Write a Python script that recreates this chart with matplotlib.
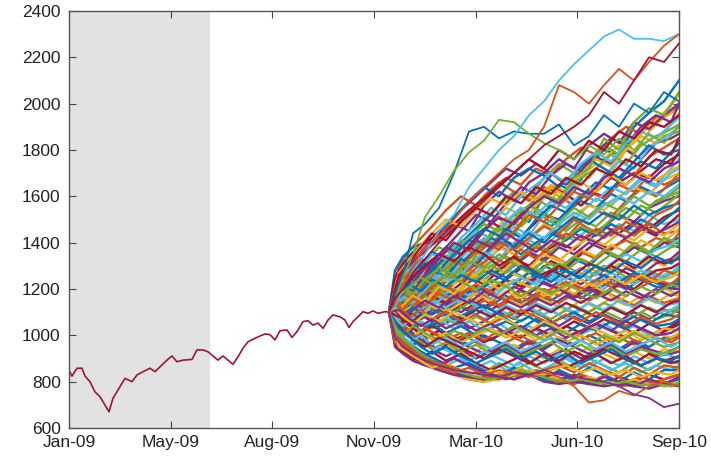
import numpy as np
import matplotlib
matplotlib.use('Agg')
import matplotlib.pyplot as plt

# Historical index: days after start date and closing values
start_date = np.datetime64('2009-01-20')
hist_days = [0, 3, 8, 13, 16, 21, 26, 31, 36, 40, 44, 49, 56, 63, 68, 74, 81, 86, 91, 98,
             103, 108, 114, 123, 128, 134, 139, 144, 149, 154, 159, 164, 169, 174, 179, 184,
             191, 196, 201, 206, 211, 218, 223, 228, 234, 239, 244, 249, 254, 259, 264, 271,
             276, 280, 284, 289, 294, 299, 304, 309, 316, 320]
hist_values = [850, 824, 858, 858, 824, 800, 756, 735, 699, 670, 728, 764, 814, 800, 829, 843,
               858, 843, 864, 893, 911, 886, 893, 896, 937, 937, 929, 911, 893, 911, 893, 875,
               907, 944, 972, 983, 997, 1006, 1003, 980, 1020, 1023, 991, 1016, 1059, 1063,
               1044, 1053, 1030, 1066, 1088, 1080, 1066, 1034, 1059, 1080, 1102, 1095, 1105,
               1095, 1102, 1100]

# in-sample window (grey band), in days after start
shade_end_day = 141

# simulated paths, first set, sampled at these days
sim_days_a = [320, 326, 334, 344, 356, 370, 385, 400, 415, 430, 445, 460, 475, 490, 505, 520,
              535, 550, 565, 580, 595, 610]

sim_a_upper = [
    [1100, 1140, 1190, 1230, 1290, 1260, 1340, 1410, 1380, 1470, 1520, 1490, 1600, 1650, 1620, 1730, 1800, 1780, 1900, 1960, 2010, 2100],
    [1100, 1080, 1150, 1210, 1180, 1260, 1330, 1300, 1400, 1460, 1430, 1550, 1610, 1580, 1680, 1720, 1850, 1800, 1920, 1980, 1950, 2050],
    [1100, 1200, 1280, 1320, 1360, 1420, 1480, 1450, 1560, 1620, 1580, 1660, 1700, 1760, 1720, 1820, 1870, 1830, 1920, 1890, 1950, 2000],
    [1100, 1130, 1100, 1180, 1250, 1220, 1300, 1370, 1340, 1440, 1500, 1560, 1520, 1640, 1700, 1680, 1760, 1820, 1790, 1880, 1940, 1980],
    [1100, 1250, 1310, 1360, 1400, 1440, 1480, 1540, 1590, 1650, 1700, 1760, 1720, 1800, 1760, 1840, 1800, 1880, 1850, 1920, 1900, 1950],
    [1100, 1060, 1120, 1160, 1230, 1200, 1280, 1350, 1330, 1400, 1470, 1430, 1520, 1580, 1650, 1600, 1690, 1750, 1720, 1810, 1850, 1900],
    [1100, 1150, 1200, 1260, 1320, 1380, 1350, 1430, 1500, 1560, 1620, 1590, 1680, 1740, 1700, 1760, 1820, 1780, 1850, 1810, 1860, 1880],
    [1100, 1120, 1180, 1150, 1220, 1290, 1260, 1330, 1400, 1370, 1450, 1520, 1490, 1560, 1620, 1590, 1680, 1720, 1690, 1770, 1810, 1850],
    [1100, 1280, 1340, 1380, 1400, 1440, 1510, 1580, 1640, 1600, 1680, 1720, 1690, 1640, 1700, 1760, 1720, 1680, 1750, 1820, 1780, 1800],
    [1100, 1090, 1140, 1200, 1170, 1240, 1300, 1280, 1350, 1420, 1390, 1460, 1520, 1500, 1570, 1620, 1600, 1660, 1700, 1680, 1740, 1780],
    [1100, 1140, 1210, 1190, 1260, 1330, 1400, 1370, 1450, 1510, 1480, 1550, 1600, 1570, 1640, 1610, 1680, 1720, 1690, 1660, 1720, 1750],
    [1100, 1070, 1130, 1190, 1250, 1220, 1290, 1340, 1310, 1380, 1350, 1420, 1480, 1450, 1520, 1560, 1540, 1600, 1640, 1610, 1670, 1700],
    [1100, 1230, 1300, 1330, 1370, 1410, 1470, 1530, 1600, 1660, 1620, 1580, 1640, 1600, 1560, 1620, 1590, 1650, 1620, 1690, 1650, 1680],
    [1100, 1110, 1170, 1140, 1200, 1260, 1230, 1300, 1360, 1330, 1400, 1450, 1420, 1480, 1530, 1500, 1560, 1600, 1570, 1620, 1600, 1650],
    [1100, 1150, 1120, 1190, 1250, 1300, 1360, 1420, 1480, 1450, 1520, 1560, 1530, 1490, 1550, 1510, 1570, 1540, 1600, 1560, 1590, 1620],
]

sim_a_mid = [
    [1100, 1060, 1110, 1080, 1140, 1200, 1170, 1230, 1280, 1250, 1310, 1360, 1330, 1390, 1440, 1410, 1470, 1520, 1490, 1550, 1580, 1600],
    [1100, 1140, 1190, 1250, 1310, 1280, 1350, 1410, 1460, 1430, 1380, 1440, 1400, 1460, 1510, 1480, 1530, 1500, 1560, 1520, 1550, 1570],
    [1100, 1120, 1080, 1130, 1170, 1140, 1200, 1250, 1220, 1280, 1330, 1300, 1360, 1400, 1370, 1430, 1470, 1440, 1490, 1460, 1510, 1540],
    [1100, 1210, 1260, 1300, 1260, 1330, 1300, 1370, 1420, 1390, 1450, 1410, 1380, 1440, 1410, 1460, 1430, 1480, 1450, 1520, 1480, 1500],
    [1100, 1080, 1130, 1170, 1140, 1210, 1180, 1240, 1290, 1260, 1320, 1290, 1350, 1320, 1380, 1420, 1390, 1440, 1410, 1460, 1430, 1480],
    [1100, 1130, 1180, 1150, 1210, 1260, 1320, 1290, 1350, 1400, 1370, 1420, 1470, 1440, 1500, 1460, 1420, 1470, 1430, 1480, 1440, 1450],
    [1100, 1050, 1090, 1060, 1110, 1160, 1130, 1190, 1160, 1220, 1270, 1240, 1300, 1270, 1330, 1300, 1360, 1330, 1390, 1360, 1400, 1420],
    [1100, 1150, 1210, 1180, 1240, 1290, 1260, 1320, 1290, 1350, 1310, 1270, 1320, 1290, 1340, 1310, 1370, 1340, 1400, 1360, 1420, 1400],
    [1100, 1110, 1150, 1120, 1170, 1210, 1260, 1230, 1280, 1250, 1300, 1350, 1320, 1380, 1350, 1400, 1370, 1330, 1380, 1350, 1400, 1380],
    [1100, 1070, 1120, 1170, 1140, 1190, 1160, 1210, 1180, 1230, 1200, 1250, 1220, 1270, 1240, 1290, 1260, 1310, 1280, 1330, 1300, 1350],
    [1100, 1160, 1200, 1250, 1300, 1350, 1320, 1380, 1350, 1300, 1340, 1290, 1250, 1300, 1260, 1310, 1280, 1330, 1290, 1340, 1310, 1330],
    [1100, 1120, 1090, 1140, 1110, 1160, 1200, 1170, 1220, 1190, 1240, 1210, 1260, 1230, 1280, 1240, 1200, 1250, 1220, 1270, 1240, 1300],
    [1100, 1090, 1130, 1160, 1200, 1170, 1230, 1270, 1240, 1290, 1330, 1300, 1260, 1310, 1280, 1250, 1300, 1270, 1230, 1280, 1250, 1280],
    [1100, 1140, 1110, 1160, 1130, 1180, 1150, 1200, 1170, 1130, 1180, 1150, 1200, 1170, 1220, 1190, 1240, 1210, 1260, 1230, 1280, 1260],
    [1100, 1060, 1100, 1140, 1110, 1150, 1190, 1160, 1210, 1250, 1220, 1270, 1240, 1290, 1260, 1220, 1260, 1230, 1270, 1240, 1210, 1240],
    [1100, 1130, 1170, 1140, 1180, 1150, 1110, 1150, 1120, 1170, 1140, 1180, 1150, 1200, 1170, 1210, 1180, 1230, 1200, 1250, 1220, 1220],
    [1100, 1110, 1070, 1110, 1150, 1120, 1170, 1140, 1190, 1160, 1210, 1180, 1230, 1200, 1160, 1200, 1170, 1220, 1190, 1160, 1210, 1200],
    [1100, 1150, 1190, 1230, 1200, 1250, 1220, 1270, 1240, 1200, 1240, 1210, 1170, 1210, 1180, 1220, 1190, 1150, 1190, 1160, 1200, 1180],
    [1100, 1080, 1120, 1090, 1130, 1100, 1140, 1110, 1150, 1120, 1160, 1130, 1170, 1140, 1180, 1150, 1190, 1160, 1130, 1170, 1140, 1160],
]

sim_a_lower = [
    [1100, 1070, 1040, 1080, 1050, 1090, 1060, 1100, 1070, 1110, 1080, 1120, 1090, 1130, 1100, 1140, 1110, 1150, 1120, 1160, 1130, 1140],
    [1100, 1120, 1160, 1130, 1170, 1140, 1100, 1140, 1110, 1070, 1110, 1080, 1120, 1090, 1130, 1100, 1140, 1110, 1080, 1120, 1090, 1120],
    [1100, 1060, 1090, 1050, 1080, 1040, 1070, 1030, 1060, 1100, 1070, 1110, 1080, 1040, 1080, 1050, 1090, 1060, 1100, 1070, 1110, 1100],
    [1100, 1130, 1090, 1120, 1080, 1110, 1070, 1100, 1130, 1090, 1050, 1080, 1040, 1070, 1100, 1060, 1090, 1050, 1080, 1050, 1090, 1080],
    [1100, 1040, 1000, 1030, 990, 1020, 980, 1010, 970, 1000, 1040, 1010, 1050, 1020, 1060, 1030, 1070, 1040, 1010, 1050, 1020, 1060],
    [1100, 1090, 1050, 1080, 1040, 1070, 1030, 1060, 1020, 1050, 1010, 1040, 1000, 1030, 990, 1020, 1050, 1010, 1040, 1000, 1030, 1040],
    [1100, 1120, 1080, 1050, 1090, 1060, 1100, 1070, 1040, 1080, 1050, 1020, 1060, 1030, 1000, 1040, 1010, 980, 1020, 990, 1030, 1020],
    [1100, 1050, 1020, 990, 1030, 1000, 970, 1010, 980, 1020, 990, 960, 1000, 970, 1010, 980, 950, 990, 960, 1000, 970, 1000],
    [1100, 1080, 1040, 1010, 980, 1020, 990, 960, 1000, 970, 940, 980, 950, 990, 960, 1000, 970, 940, 980, 950, 990, 990],
    [1100, 1030, 1000, 1040, 1010, 980, 1020, 990, 1030, 1000, 1040, 1010, 980, 1020, 990, 960, 1000, 970, 1010, 980, 950, 970],
    [1100, 1070, 1030, 1000, 970, 940, 980, 950, 920, 960, 930, 970, 940, 980, 950, 920, 960, 930, 970, 940, 920, 950],
    [1100, 1020, 990, 960, 1000, 970, 940, 910, 950, 920, 960, 930, 900, 940, 910, 950, 920, 890, 930, 900, 940, 930],
    [1100, 1060, 1020, 980, 950, 990, 960, 930, 900, 940, 910, 880, 920, 890, 930, 900, 940, 910, 880, 920, 890, 910],
    [1100, 1000, 970, 940, 910, 950, 920, 890, 930, 900, 870, 910, 880, 920, 890, 860, 900, 870, 910, 880, 920, 900],
    [1100, 990, 950, 920, 890, 870, 900, 870, 840, 880, 850, 880, 850, 890, 860, 900, 870, 840, 880, 850, 890, 880],
    [1100, 970, 940, 910, 880, 860, 840, 860, 830, 810, 840, 820, 850, 870, 840, 880, 850, 820, 860, 830, 870, 860],
    [1100, 1020, 980, 950, 920, 890, 860, 880, 850, 820, 860, 830, 810, 850, 820, 860, 830, 800, 840, 810, 850, 850],
    [1100, 960, 930, 900, 880, 850, 830, 810, 800, 830, 810, 840, 820, 800, 830, 810, 790, 820, 800, 830, 810, 830],
    [1100, 1000, 960, 930, 900, 870, 900, 870, 840, 820, 810, 830, 820, 840, 810, 790, 820, 800, 780, 810, 790, 820],
    [1100, 980, 940, 910, 880, 860, 830, 810, 800, 810, 830, 850, 830, 810, 800, 820, 800, 790, 810, 790, 780, 800],
    [1100, 1010, 970, 930, 900, 880, 850, 830, 810, 830, 850, 840, 820, 800, 790, 810, 800, 780, 790, 800, 780, 790],
    [1100, 950, 920, 890, 870, 850, 830, 820, 810, 820, 840, 830, 800, 790, 800, 790, 780, 790, 780, 770, 790, 780],
]

# second set of simulated paths, sampled on a shifted grid
sim_days_b = [320, 330, 341, 352, 363, 377, 392, 407, 422, 437, 452, 467, 482, 497, 512, 527,
              542, 557, 572, 587, 602, 610]

sim_b_upper = [
    [1100, 1210, 1180, 1260, 1330, 1300, 1390, 1450, 1420, 1510, 1480, 1560, 1620, 1580, 1690, 1740, 1700, 1800, 1870, 1930, 1990, 2040],
    [1100, 1300, 1370, 1420, 1470, 1540, 1600, 1560, 1630, 1680, 1650, 1720, 1690, 1760, 1810, 1780, 1850, 1900, 1870, 1940, 1960, 1990],
    [1100, 1160, 1230, 1290, 1350, 1330, 1420, 1480, 1550, 1520, 1600, 1650, 1700, 1660, 1740, 1790, 1750, 1830, 1880, 1850, 1910, 1940],
    [1100, 1090, 1150, 1210, 1190, 1270, 1350, 1400, 1380, 1460, 1530, 1590, 1550, 1630, 1680, 1720, 1780, 1740, 1820, 1860, 1890, 1910],
    [1100, 1240, 1300, 1360, 1420, 1480, 1540, 1600, 1660, 1720, 1690, 1740, 1700, 1650, 1710, 1770, 1740, 1800, 1760, 1830, 1850, 1870],
    [1100, 1150, 1120, 1200, 1280, 1250, 1330, 1300, 1380, 1460, 1420, 1500, 1560, 1530, 1600, 1660, 1630, 1700, 1750, 1720, 1790, 1830],
    [1100, 1190, 1260, 1240, 1310, 1380, 1350, 1420, 1490, 1450, 1520, 1580, 1640, 1610, 1560, 1620, 1680, 1650, 1710, 1760, 1740, 1790],
    [1100, 1080, 1140, 1110, 1170, 1230, 1300, 1270, 1340, 1400, 1370, 1440, 1500, 1460, 1530, 1590, 1560, 1620, 1680, 1650, 1720, 1760],
    [1100, 1270, 1330, 1390, 1440, 1500, 1470, 1540, 1590, 1560, 1620, 1580, 1640, 1600, 1660, 1620, 1690, 1650, 1700, 1670, 1710, 1730],
    [1100, 1130, 1190, 1160, 1220, 1190, 1250, 1310, 1280, 1350, 1410, 1380, 1450, 1420, 1490, 1540, 1510, 1580, 1630, 1600, 1660, 1700],
    [1100, 1170, 1230, 1300, 1360, 1330, 1400, 1460, 1520, 1490, 1550, 1510, 1470, 1530, 1580, 1550, 1610, 1580, 1640, 1610, 1650, 1670],
    [1100, 1060, 1120, 1180, 1150, 1210, 1270, 1240, 1300, 1270, 1340, 1390, 1360, 1420, 1470, 1440, 1500, 1550, 1520, 1580, 1610, 1640],
    [1100, 1200, 1260, 1330, 1300, 1380, 1450, 1520, 1490, 1570, 1640, 1610, 1690, 1740, 1710, 1790, 1850, 1820, 1900, 1950, 1920, 2000],
    [1100, 1120, 1180, 1250, 1310, 1380, 1350, 1420, 1480, 1550, 1520, 1590, 1650, 1620, 1700, 1760, 1730, 1800, 1860, 1830, 1910, 1960],
    [1100, 1260, 1320, 1380, 1440, 1410, 1490, 1550, 1520, 1600, 1570, 1640, 1610, 1680, 1650, 1720, 1690, 1760, 1730, 1800, 1780, 1850],
    [1100, 1150, 1210, 1270, 1240, 1310, 1380, 1450, 1420, 1490, 1550, 1520, 1580, 1550, 1610, 1580, 1640, 1610, 1670, 1640, 1700, 1720],
]

sim_b_mid = [
    [1100, 1220, 1280, 1330, 1300, 1360, 1410, 1380, 1440, 1500, 1470, 1530, 1490, 1450, 1500, 1470, 1530, 1500, 1560, 1530, 1580, 1610],
    [1100, 1140, 1110, 1160, 1210, 1260, 1230, 1290, 1340, 1310, 1370, 1330, 1390, 1440, 1410, 1460, 1430, 1490, 1460, 1520, 1550, 1580],
    [1100, 1190, 1250, 1220, 1280, 1340, 1310, 1370, 1420, 1390, 1350, 1400, 1440, 1410, 1460, 1430, 1480, 1450, 1500, 1470, 1520, 1550],
    [1100, 1080, 1040, 1090, 1130, 1100, 1160, 1210, 1180, 1240, 1290, 1260, 1320, 1290, 1350, 1400, 1370, 1420, 1460, 1430, 1490, 1520],
    [1100, 1160, 1210, 1270, 1320, 1380, 1350, 1410, 1380, 1440, 1400, 1360, 1410, 1380, 1430, 1400, 1450, 1420, 1470, 1440, 1470, 1490],
    [1100, 1110, 1160, 1130, 1180, 1150, 1200, 1250, 1220, 1280, 1250, 1300, 1340, 1310, 1370, 1340, 1390, 1360, 1410, 1380, 1430, 1460],
    [1100, 1230, 1270, 1320, 1290, 1340, 1380, 1350, 1400, 1370, 1330, 1380, 1350, 1310, 1360, 1330, 1380, 1410, 1380, 1420, 1400, 1440],
    [1100, 1070, 1110, 1080, 1130, 1170, 1140, 1190, 1160, 1210, 1250, 1220, 1270, 1240, 1290, 1260, 1310, 1350, 1320, 1370, 1390, 1410],
    [1100, 1140, 1180, 1220, 1190, 1240, 1280, 1250, 1300, 1340, 1310, 1270, 1310, 1280, 1330, 1300, 1350, 1320, 1370, 1340, 1380, 1390],
    [1100, 1050, 1080, 1120, 1090, 1130, 1170, 1140, 1180, 1150, 1200, 1240, 1210, 1250, 1220, 1270, 1240, 1290, 1260, 1310, 1330, 1360],
    [1100, 1180, 1220, 1190, 1240, 1210, 1260, 1230, 1280, 1250, 1300, 1270, 1230, 1280, 1250, 1300, 1270, 1320, 1290, 1340, 1310, 1340],
    [1100, 1120, 1090, 1130, 1170, 1140, 1180, 1220, 1190, 1240, 1210, 1250, 1280, 1250, 1290, 1260, 1300, 1270, 1240, 1280, 1290, 1310],
    [1100, 1150, 1200, 1240, 1280, 1250, 1300, 1270, 1320, 1290, 1250, 1290, 1260, 1220, 1260, 1230, 1270, 1240, 1280, 1250, 1270, 1290],
    [1100, 1090, 1120, 1090, 1130, 1100, 1140, 1180, 1150, 1190, 1160, 1200, 1170, 1210, 1240, 1210, 1250, 1220, 1260, 1230, 1250, 1270],
    [1100, 1130, 1160, 1130, 1170, 1210, 1180, 1220, 1190, 1150, 1190, 1160, 1200, 1230, 1200, 1240, 1210, 1170, 1210, 1240, 1220, 1250],
    [1100, 1060, 1100, 1070, 1110, 1080, 1120, 1090, 1130, 1170, 1140, 1180, 1150, 1190, 1160, 1200, 1230, 1200, 1240, 1210, 1200, 1230],
    [1100, 1170, 1210, 1250, 1220, 1260, 1230, 1200, 1240, 1210, 1170, 1210, 1180, 1220, 1190, 1160, 1200, 1170, 1210, 1180, 1220, 1210],
    [1100, 1110, 1080, 1120, 1090, 1130, 1100, 1140, 1110, 1150, 1120, 1160, 1130, 1170, 1140, 1180, 1150, 1190, 1160, 1200, 1170, 1190],
    [1100, 1140, 1170, 1200, 1170, 1210, 1180, 1150, 1190, 1160, 1130, 1170, 1140, 1110, 1150, 1120, 1160, 1130, 1170, 1140, 1180, 1170],
]

sim_b_lower = [
    [1100, 1080, 1050, 1090, 1060, 1100, 1070, 1110, 1080, 1120, 1090, 1130, 1100, 1140, 1110, 1080, 1120, 1090, 1130, 1100, 1140, 1150],
    [1100, 1100, 1140, 1110, 1150, 1120, 1160, 1130, 1090, 1130, 1100, 1140, 1110, 1070, 1110, 1080, 1120, 1090, 1130, 1100, 1110, 1130],
    [1100, 1050, 1020, 1060, 1030, 1070, 1040, 1080, 1050, 1090, 1060, 1100, 1070, 1110, 1080, 1120, 1090, 1060, 1100, 1070, 1090, 1110],
    [1100, 1120, 1080, 1110, 1070, 1100, 1060, 1090, 1050, 1080, 1110, 1080, 1050, 1090, 1060, 1100, 1070, 1040, 1080, 1050, 1070, 1090],
    [1100, 1030, 1060, 1020, 1050, 1010, 1040, 1000, 1030, 1060, 1030, 1070, 1040, 1010, 1050, 1020, 1060, 1030, 1070, 1040, 1050, 1070],
    [1100, 1070, 1040, 1010, 1040, 1010, 980, 1010, 980, 1020, 990, 1030, 1000, 1040, 1010, 1050, 1020, 990, 1030, 1000, 1030, 1050],
    [1100, 1110, 1070, 1040, 1070, 1030, 1060, 1020, 1050, 1010, 1040, 1000, 1030, 990, 1020, 1050, 1020, 1060, 1030, 1000, 1010, 1030],
    [1100, 1020, 990, 1020, 980, 1010, 970, 1000, 1030, 990, 1020, 980, 1010, 970, 1000, 960, 990, 1020, 980, 1010, 990, 1010],
    [1100, 1060, 1020, 1050, 1010, 980, 1010, 970, 940, 970, 1000, 960, 990, 950, 980, 1010, 970, 1000, 960, 990, 970, 990],
    [1100, 1000, 970, 1000, 960, 990, 950, 980, 940, 970, 930, 960, 990, 950, 980, 940, 970, 930, 960, 990, 950, 970],
    [1100, 1040, 1000, 970, 940, 970, 930, 960, 920, 950, 910, 940, 970, 930, 960, 920, 950, 910, 940, 920, 930, 950],
    [1100, 980, 950, 980, 940, 910, 940, 900, 930, 960, 920, 950, 910, 940, 900, 930, 960, 920, 950, 910, 920, 930],
    [1100, 1030, 990, 950, 920, 950, 910, 880, 910, 940, 900, 930, 890, 920, 880, 910, 940, 900, 870, 900, 890, 910],
    [1100, 960, 930, 900, 930, 890, 920, 880, 850, 880, 910, 870, 900, 860, 890, 920, 880, 910, 870, 900, 880, 890],
    [1100, 1010, 970, 930, 900, 870, 900, 860, 890, 850, 880, 840, 870, 900, 860, 890, 850, 880, 840, 870, 850, 870],
    [1100, 950, 920, 890, 860, 880, 850, 820, 850, 830, 860, 820, 850, 870, 840, 860, 830, 850, 820, 840, 830, 850],
    [1100, 990, 950, 910, 880, 850, 820, 840, 810, 840, 820, 850, 820, 800, 830, 810, 840, 800, 820, 800, 820, 830],
    [1100, 970, 930, 900, 870, 850, 830, 810, 830, 810, 840, 820, 800, 820, 800, 790, 810, 790, 800, 790, 800, 810],
    [1100, 1000, 960, 920, 890, 860, 840, 820, 810, 830, 850, 830, 810, 800, 810, 795, 790, 800, 785, 790, 780, 795],
]

# the paths that stand out at the edges of the fan (first grid)
sim_outliers = [
    [1100, 1180, 1260, 1440, 1480, 1550, 1700, 1880, 1900, 1850, 1880, 1870, 1870, 1910, 1820, 1860, 1950, 1900, 2000, 1960, 2050, 2010],
    [1100, 1150, 1250, 1350, 1510, 1600, 1710, 1790, 1840, 1930, 1920, 1870, 1830, 1800, 1760, 1820, 1780, 1850, 1800, 1870, 1830, 1900],
    [1100, 1120, 1200, 1280, 1350, 1450, 1520, 1640, 1720, 1800, 1860, 1950, 2010, 2100, 2170, 2230, 2290, 2320, 2280, 2280, 2270, 2300],
    [1100, 1140, 1220, 1300, 1380, 1430, 1500, 1580, 1640, 1700, 1760, 1800, 1900, 2080, 2050, 2000, 2080, 2150, 2100, 2180, 2250, 2300],
    [1100, 1160, 1200, 1270, 1330, 1400, 1460, 1520, 1580, 1640, 1700, 1760, 1820, 1860, 1900, 1950, 2050, 2000, 2100, 2200, 2180, 2260],
    [1100, 1000, 960, 930, 900, 880, 860, 840, 830, 850, 840, 830, 840, 820, 780, 710, 720, 760, 740, 780, 800, 780],
    [1100, 990, 950, 920, 890, 870, 850, 840, 830, 820, 840, 830, 850, 830, 820, 810, 800, 780, 745, 730, 690, 705],
]
outlier_colors = ['#0072BD', '#77AC30', '#4DBEEE', '#D95319', '#A2142F', '#D95319', '#7E2F8E']

y_ticks = [600, 800, 1000, 1200, 1400, 1600, 1800, 2000, 2200, 2400]
x_tick_days = [0, 102, 203, 305, 407, 508, 610]
x_tick_labels = ['Jan-09', 'May-09', 'Aug-09', 'Nov-09', 'Mar-10', 'Jun-10', 'Sep-10']

matlab_colors = ['#0072BD', '#D95319', '#EDB120', '#7E2F8E', '#77AC30', '#4DBEEE', '#A2142F']

plt.rcParams['font.family'] = ['Liberation Sans', 'DejaVu Sans']

fig = plt.figure(figsize=(7.11, 4.61), dpi=100)
ax = fig.add_axes([0.097, 0.0716, 0.858, 0.9046])

to_dates = lambda d: start_date + np.array(d).astype('timedelta64[D]')

ax.axvspan(to_dates([0])[0], to_dates([shade_end_day])[0], color='#E2E2E2', lw=0, zorder=0)

ax.plot(to_dates(hist_days), hist_values, color='#A2142F', lw=1.2, zorder=2)

# interleave both sets so the colours mix like a matrix plot
x_a = to_dates(sim_days_a)
x_b = to_dates(sim_days_b)
set_a = sim_a_upper + sim_a_mid + sim_a_lower
set_b = sim_b_upper + sim_b_mid + sim_b_lower
runs = []
for i in range(max(len(set_a), len(set_b))):
    if i < len(set_a):
        runs.append((x_a, set_a[i]))
    if i < len(set_b):
        runs.append((x_b, set_b[i]))
order = np.argsort([(k * 37) % len(runs) for k in range(len(runs))])
for n, k in enumerate(order):
    xs, ys = runs[k]
    ax.plot(xs, ys, color=matlab_colors[n % 7], lw=1.7, zorder=2)
for path, c in zip(sim_outliers, outlier_colors):
    ax.plot(x_a, path, color=c, lw=1.3, zorder=2)

ax.set_xlim(to_dates([0])[0], to_dates([610])[0])
ax.set_ylim(600, 2400)
ax.set_yticks(y_ticks)
ax.set_xticks(to_dates(x_tick_days), labels=x_tick_labels)

ax.tick_params(direction='in', length=5, width=0.8, color='#444444', labelcolor='#222222',
               labelsize=12.5, top=True, right=True)
ax.tick_params(axis='x', pad=5)
ax.tick_params(axis='y', pad=6)
for s in ax.spines.values():
    s.set_color('#555555')
    s.set_linewidth(1.0)

fig.savefig('out.png', dpi=100)
